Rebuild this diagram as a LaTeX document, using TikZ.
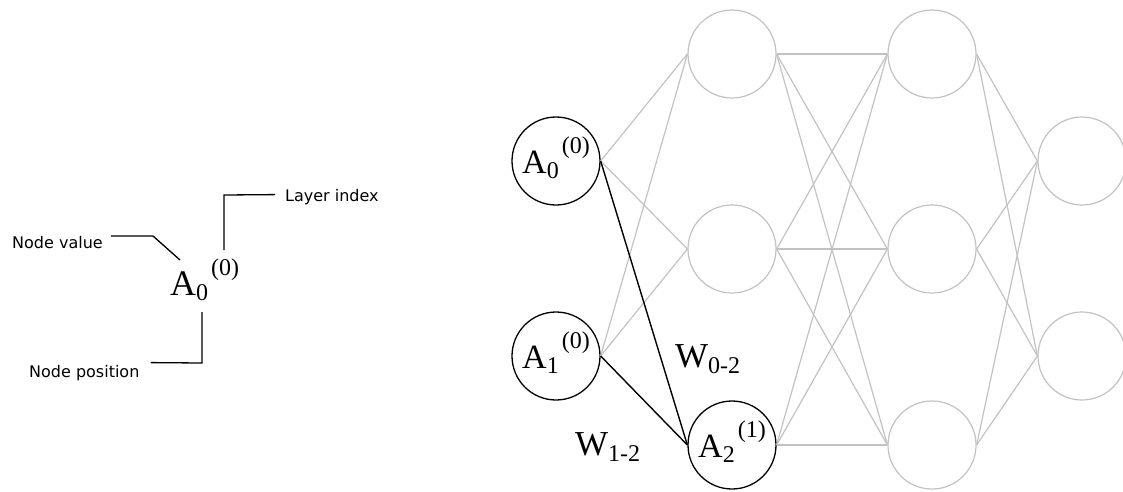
\documentclass[tikz,border=0pt]{standalone}
\usepackage{fontspec}
\setmainfont{Liberation Serif}
\newfontfamily\notefont{DejaVu Sans}
\usetikzlibrary{positioning,calc}
\definecolor{edgegray}{RGB}{194,194,194}
\newcommand{\alab}[2]{A\raisebox{-5pt}{\fontsize{24}{24}\selectfont #1}\hspace{3pt}\raisebox{20pt}{\fontsize{24}{24}\selectfont (#2)}}
\newcommand{\wlab}[1]{W\raisebox{-6pt}{\fontsize{24}{24}\selectfont #1}}
\tikzset{
  neuron/.style={circle, draw=edgegray, line width=1.2pt, minimum size=88pt, inner sep=0pt,
    text height=30pt, text depth=6pt, font=\fontsize{34}{36}\selectfont},
  active/.style={neuron, draw=black, line width=1.3pt},
  synapse/.style={draw=edgegray, line width=1.2pt},
  weight/.style={draw=black, line width=1.4pt},
  note/.style={anchor=base west, inner sep=0pt, font=\notefont\fontsize{16}{18}\selectfont},
  leader/.style={draw=black, line width=1.3pt},
  wtext/.style={anchor=base west, inner sep=0pt, font=\fontsize{35}{37}\selectfont}
}

\begin{document}
\begin{tikzpicture}[x=1pt, y=-1pt]
    \clip (0,0) rectangle (1123,491);

    % key on the left
    \node[anchor=base west, inner sep=0pt, font=\fontsize{36}{38}\selectfont] (key) at (170,295) {\alab{0}{0}};
    \node[note] (nv) at (12,248) {Node value};
    \node[note] (li) at (285,201) {Layer index};
    \node[note] (np) at (29,377) {Node position};

    \coordinate (nvbend) at (153,236);
    \coordinate (nvend)  at (180,260);
    \coordinate (libend) at (224,195);
    \coordinate (liend)  at (224,250);
    \coordinate (npbend) at (202,363);
    \coordinate (npend)  at (202,312);

    \draw[leader] ([xshift=8pt,yshift=6pt]nv.east) -- (nvbend) -- (nvend);
    \draw[leader] ([xshift=-10pt,yshift=2pt]li.west) -- (libend) -- (liend);
    \draw[leader] ([xshift=11pt,yshift=10pt]np.east) -- (npbend) -- (npend);

    % network
    \node[active] (a0) at (556,161) {\alab{0}{0}};
    \node[active] (a1) at (556,356) {\alab{1}{0}};

    \node[neuron] (h0) at (732,54)  {};
    \node[neuron] (h1) at (732,249) {};
    \node[active] (h2) at (732,445) {\alab{2}{1}};

    \node[neuron] (g0) at (932,54)  {};
    \node[neuron] (g1) at (932,249) {};
    \node[neuron] (g2) at (932,445) {};

    \node[neuron] (o0) at (1082,161) {};
    \node[neuron] (o1) at (1082,356) {};

    \foreach \i in {0,1}
      \foreach \j in {0,1}
        \draw[synapse] (a\i.east) -- (h\j.west);
    \foreach \i in {0,1,2}
      \foreach \j in {0,1,2}
        \draw[synapse] (h\i.east) -- (g\j.west);
    \foreach \i in {0,1,2}
      \foreach \j in {0,1}
        \draw[synapse] (g\i.east) -- (o\j.west);

    \draw[weight] (a0.east) -- (h2.west);
    \draw[weight] (a1.east) -- (h2.west);

    \node[wtext] (w02) at (675,367) {\wlab{0-2}};
    \node[wtext] (w12) at (575,455) {\wlab{1-2}};
\end{tikzpicture}
\end{document}
